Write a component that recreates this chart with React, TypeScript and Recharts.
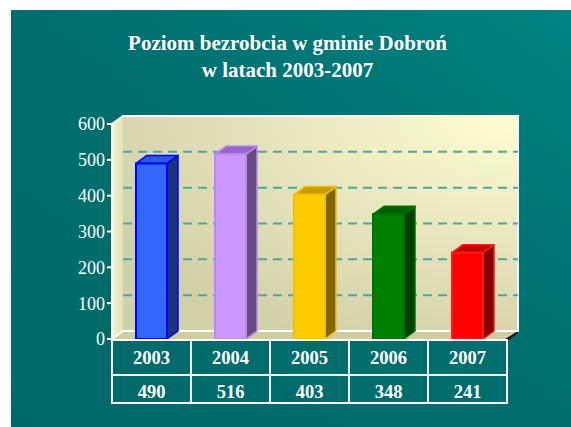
import React from 'react'
import { BarChart, Bar, XAxis, YAxis, CartesianGrid, ReferenceArea } from 'recharts'

const years = ['2003', '2004', '2005', '2006', '2007']
const unemployed = [490, 516, 403, 348, 241]
const yTicks = [0, 100, 200, 300, 400, 500, 600]
const gridValues = [100, 200, 300, 400, 500]

const FRONT = ['#3366ff', '#cc99ff', '#ffcc00', '#008000', '#ff0000']
const EDGE = ['#0000ff', '#b88af2', '#f5c000', '#007000', '#ff1a1a']
const TOP = ['#2d58e0', '#9966cc', '#c89b00', '#006000', '#c80000']
const SIDE = ['#1a337f', '#664c80', '#806600', '#004000', '#800000']

const W = 571
const H = 427
const DX = 11
const DY = 8
const M = { top: 124, right: 64, bottom: 24, left: 62 }
const Y_AXIS_W = 50
const X_AXIS_H = 64
const BAND = (W - M.left - Y_AXIS_W - M.right) / years.length
const SERIF = '"Liberation Serif", "DejaVu Serif", serif'

const data = years.map((year, i) => ({ year, value: unemployed[i] }))

function Walls(props: any) {
  const { x, y, width, height } = props
  const r = x + width
  const b = y + height
  return (
    <g>
      <defs>
        <radialGradient id="backWall" cx="1" cy="0" r="1.15">
          <stop offset="0" stopColor="#ffffd2" />
          <stop offset="0.55" stopColor="#e6e4bc" />
          <stop offset="1" stopColor="#d2d0a8" />
        </radialGradient>
        <linearGradient id="sideWall" x1="0" y1="0" x2="1" y2="0">
          <stop offset="0" stopColor="#f6f4cc" />
          <stop offset="1" stopColor="#e2e0b6" />
        </linearGradient>
      </defs>
      <polygon points={`${x},${y} ${x + DX},${y - DY} ${x + DX},${b - DY} ${x},${b}`} fill="url(#sideWall)" />
      <rect x={x + DX} y={y - DY} width={width} height={height} fill="url(#backWall)" />
      <polygon points={`${x},${b} ${x + DX},${b - DY} ${r + DX},${b - DY} ${r},${b}`} fill="#cfcca2" />
      <polygon points={`${r - 2},${b} ${r + DX},${b - DY} ${r + DX},${b - DY + 2} ${r + 2},${b + 1}`} fill="#111" />
      <polyline
        points={`${x},${b} ${x + DX},${b - DY} ${r + DX},${b - DY} ${r + DX},${y - DY} ${x + DX},${y - DY} ${x},${y}`}
        fill="none"
        stroke="#fff"
        strokeWidth={2}
      />
    </g>
  )
}

function GridLine(props: any) {
  const { x1, y1, x2 } = props
  return (
    <line
      x1={x1 + DX}
      y1={y1 - DY}
      x2={x2 + DX}
      y2={y1 - DY}
      stroke="#4aa99c"
      strokeWidth={2}
      strokeDasharray="9 6"
    />
  )
}

function Bar3D(props: any) {
  const { x, y, width: w, height: h } = props
  const i = props.index ?? years.indexOf(props.payload?.year)
  const edge = EDGE[i]
  return (
    <g>
      <polygon
        points={`${x + w},${y} ${x + w + DX},${y - DY} ${x + w + DX},${y + h - DY} ${x + w},${y + h}`}
        fill={SIDE[i]}
        stroke={edge}
        strokeWidth={1.5}
        strokeLinejoin="round"
      />
      <polygon
        points={`${x},${y} ${x + DX},${y - DY} ${x + w + DX},${y - DY} ${x + w},${y}`}
        fill={TOP[i]}
        stroke={edge}
        strokeWidth={1.5}
        strokeLinejoin="round"
      />
      <rect x={x} y={y} width={w} height={h} fill={FRONT[i]} stroke={edge} strokeWidth={2} />
    </g>
  )
}

function TableTick(props: any) {
  const { x, y, payload } = props
  const i = years.indexOf(payload.value)
  const left = x - BAND / 2
  return (
    <g>
      <rect x={left} y={y + 1} width={BAND} height={35} fill="none" stroke="#fff" strokeWidth={2} />
      <rect x={left} y={y + 36} width={BAND} height={28} fill="none" stroke="#fff" strokeWidth={2} />
      <text x={x} y={y + 25} textAnchor="middle" fill="#fff" fontSize={18.5} fontWeight="bold" fontFamily={SERIF}>
        {payload.value}
      </text>
      <text x={x} y={y + 59} textAnchor="middle" fill="#fff" fontSize={18.5} fontWeight="bold" fontFamily={SERIF}>
        {unemployed[i]}
      </text>
    </g>
  )
}

export default function App() {
  return (
    <div style={{ position: 'absolute', left: 0, top: 0, width: W, height: H, background: '#fff', overflow: 'hidden' }}>
      <div
        style={{
          position: 'absolute',
          left: 11,
          top: 10,
          width: W - 11,
          height: H - 10,
          background: 'linear-gradient(to top right, #006868 0%, #006e6e 50%, #008282 100%)',
        }}
      />
      <div
        style={{
          position: 'absolute',
          left: 0,
          top: 30,
          width: 575,
          textAlign: 'center',
          color: '#fff',
          fontFamily: SERIF,
          fontWeight: 'bold',
          fontSize: 21,
          lineHeight: '27px',
        }}
      >
        <div>Poziom bezrobcia w gminie Dobroń</div>
        <div>w latach 2003-2007</div>
      </div>
      <div style={{ position: 'absolute', left: 0, top: 0 }}>
        <BarChart width={W} height={H} data={data} margin={M} barSize={31}>
          <ReferenceArea y1={0} y2={600} shape={<Walls />} ifOverflow="visible" zIndex={-200} />
          <CartesianGrid vertical={false} horizontalValues={gridValues} horizontal={(p: any) => <GridLine key={p.key} {...p} />} />
          <XAxis
            dataKey="year"
            height={X_AXIS_H}
            axisLine={false}
            tickLine={false}
            tickSize={0}
            tickMargin={0}
            interval={0}
            tick={<TableTick />}
          />
          <YAxis
            width={Y_AXIS_W}
            domain={[0, 600]}
            ticks={yTicks}
            interval={0}
            axisLine={{ stroke: '#fff', strokeWidth: 2 }}
            tickLine={{ stroke: '#fff', strokeWidth: 2 }}
            tickSize={5}
            tickMargin={2}
            tick={{ fill: '#fff', fontSize: 18, fontFamily: SERIF }}
          />
          <Bar dataKey="value" shape={<Bar3D />} isAnimationActive={false} />
        </BarChart>
      </div>
    </div>
  )
}
